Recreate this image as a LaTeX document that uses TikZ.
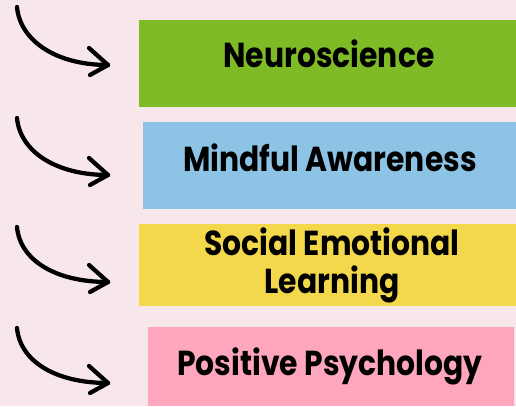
\documentclass[tikz,border=0pt]{standalone}
\usepackage{fontspec}
\setmainfont{Poppins}[FakeStretch=0.86]
\usepackage{tikz}
\usetikzlibrary{arrows}

\definecolor{bgpink}{RGB}{248,231,234}
\definecolor{neurogreen}{RGB}{127,186,39}
\definecolor{mindblue}{RGB}{141,196,230}
\definecolor{selyellow}{RGB}{244,216,75}
\definecolor{pospink}{RGB}{254,166,187}

\tikzset{
	topicbox/.style={shape=rectangle, inner sep=0pt, outer sep=0pt},
	topiclabel/.style={inner sep=0pt, align=center, font=\fontsize{26}{28.5}\selectfont\bfseries},
	swoosh/.style={line width=3.2pt, line cap=round, black}
}

\begin{document}
\begin{tikzpicture}[x=0.75pt, y=-0.75pt]
	% Background and frame:
	\useasboundingbox (0, 0) rectangle (516, 406);
	\fill[bgpink] (0, 0) rectangle (516, 406);
	% Boxes and labels:
	\node[topicbox, fill=neurogreen, minimum width=282.75pt, minimum height=65.25pt](B1) at (327.5, 63.5){};
	\node[topicbox, fill=mindblue, minimum width=279.75pt, minimum height=65.25pt](B2) at (329.5, 165.5){};
	\node[topicbox, fill=selyellow, minimum width=282.75pt, minimum height=61.5pt](B3) at (327.5, 265){};
	\node[topicbox, fill=pospink, minimum width=274.5pt, minimum height=59.25pt](B4) at (331, 366.5){};
	\node[topiclabel, anchor=base](T1) at (329, 68){Neuroscience};
	\node[topiclabel, anchor=base](T2) at (330, 171){Mindful Awareness};
	\node[topiclabel, anchor=base](T3) at (332, 293){Social Emotional\\Learning};
	\node[topiclabel, anchor=base](T4) at (330, 375){Positive Psychology};
	% Arrows:
	\coordinate (A1s) at (17, 7);
	\coordinate (A1t) at (108, 65);
	\coordinate (A2s) at (17, 118);
	\coordinate (A2t) at (108, 175);
	\coordinate (A3s) at (17, 227);
	\coordinate (A3t) at (108, 282);
	\coordinate (A4s) at (17, 328);
	\coordinate (A4t) at (108, 383);
	\draw[swoosh] (A1s) .. controls +(3, 33) and +(-53, 0) .. (A1t);
	\draw[swoosh] (A1t) -- ++(-19, -17);
	\draw[swoosh] (A1t) -- ++(-18, 10);
	\draw[swoosh] (A2s) .. controls +(3, 33) and +(-53, 0) .. (A2t);
	\draw[swoosh] (A2t) -- ++(-19, -17);
	\draw[swoosh] (A2t) -- ++(-18, 10);
	\draw[swoosh] (A3s) .. controls +(3, 33) and +(-53, 0) .. (A3t);
	\draw[swoosh] (A3t) -- ++(-19, -17);
	\draw[swoosh] (A3t) -- ++(-18, 10);
	\draw[swoosh] (A4s) .. controls +(3, 33) and +(-53, 0) .. (A4t);
	\draw[swoosh] (A4t) -- ++(-19, -17);
	\draw[swoosh] (A4t) -- ++(-18, 10);
\end{tikzpicture}
\end{document}
